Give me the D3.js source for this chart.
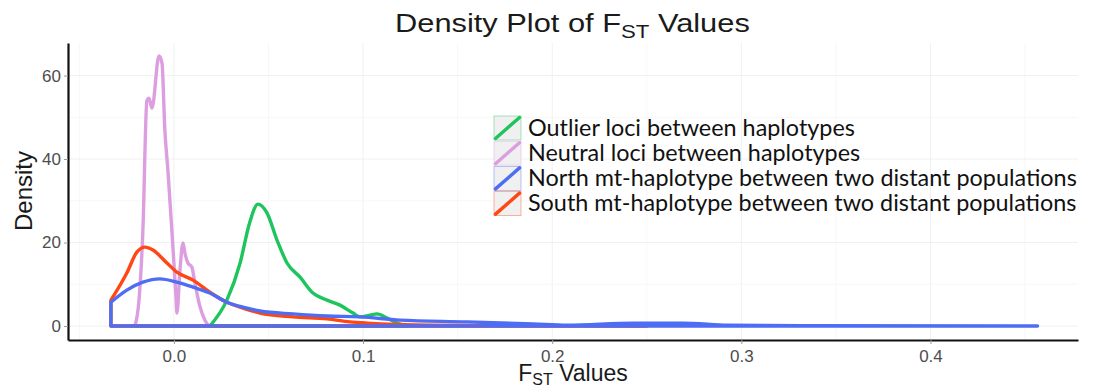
<!DOCTYPE html>
<html>
<head>
<meta charset="utf-8">
<script src="https://cdn.jsdelivr.net/npm/d3@7"></script>
<style>
  body { margin: 0; background: #fff; }
  svg { display: block; font-family: "Liberation Sans", Arial, sans-serif; }
</style>
</head>
<body>
<div id="chart"></div>
<script>
const seriesNames = [
  "Outlier loci between haplotypes",
  "Neutral loci between haplotypes",
  "North mt-haplotype between two distant populations",
  "South mt-haplotype between two distant populations"
];
const seriesColors = ["#1ec45c", "#dc9ee0", "#4d6df5", "#ff4614"];

// [F_ST, density]
const outlier = [
  [0.019, 0], [0.028, 6.2], [0.035, 15.1], [0.040, 24.7], [0.0444, 29.2], [0.0492, 27.1],
  [0.0545, 20.6], [0.0598, 15.1], [0.0667, 11.7], [0.0735, 7.9], [0.081, 6.2], [0.0878, 5.0],
  [0.0947, 3.1], [0.0984, 2.2], [0.1037, 2.6], [0.1074, 2.9], [0.1127, 1.9], [0.118, 0.7], [0.123, 0]
];
const neutral = [
  [-0.0206, 0], [-0.0185, 6], [-0.0164, 23], [-0.0143, 54], [-0.0132, 54.6], [-0.0116, 52.2],
  [-0.0079, 64.7], [-0.0063, 63], [-0.0048, 47], [-0.0032, 37.4], [-0.0011, 23], [0.0011, 7],
  [0.0016, 3.1], [0.0032, 13.4], [0.0048, 19.9], [0.0058, 17.5], [0.0074, 15.1], [0.0095, 14.1],
  [0.0111, 10.3], [0.0138, 4.6], [0.0164, 1.4], [0.0185, 0]
];
const north = [
  [-0.0333, 5.7], [-0.0249, 8.6], [-0.0164, 10.5], [-0.0074, 11.3], [0.0016, 10.5], [0.0101, 9.3],
  [0.019, 7.9], [0.028, 5.7], [0.0365, 4.5], [0.0455, 3.6], [0.063, 2.9], [0.081, 2.4],
  [0.0984, 2.2], [0.1196, 1.4], [0.155, 1.0], [0.19, 0.5], [0.208, 0.2], [0.243, 0.7],
  [0.269, 0.7], [0.293, 0.2], [0.331, 0.05], [0.4566, 0]
];
const south = [
  [-0.0333, 6.2], [-0.0249, 12.7], [-0.0196, 17.7], [-0.0153, 18.9], [-0.0111, 18.2], [-0.0037, 15.1],
  [0.0016, 12.9], [0.0101, 11.0], [0.019, 8.1], [0.028, 5.7], [0.0365, 4.3], [0.0455, 3.1],
  [0.063, 2.2], [0.081, 1.7], [0.093, 1.0], [0.102, 0.7], [0.137, 0.2], [0.2, 0.05], [0.25, 0]
];
const seriesData = [outlier, neutral, north, south];
const drawOrder = [0, 1, 3, 2];

const xTicks = [0.0, 0.1, 0.2, 0.3, 0.4];
const yTicks = [0, 20, 40, 60];

const W = 1108, H = 389;
const margin = { top: 43, right: 30, bottom: 49, left: 68 };
const width = W - margin.left - margin.right;
const height = H - margin.top - margin.bottom;

const svg = d3.select("#chart").append("svg")
  .attr("width", W).attr("height", H);
const g = svg.append("g")
  .attr("transform", `translate(${margin.left},${margin.top})`);

const x = d3.scaleLinear().domain([-0.056, 0.478]).range([0, width]);
const y = d3.scaleLinear().domain([-3.35, 67.8]).range([height, 0]);

// faint grid, major and minor
const xMinor = d3.range(-0.05, 0.476, 0.05);
const yMinor = d3.range(0, 67, 10);
g.append("g").selectAll("line").data(xMinor).join("line")
  .attr("x1", d => x(d)).attr("x2", d => x(d)).attr("y1", 0).attr("y2", height)
  .attr("stroke", d => xTicks.some(t => Math.abs(t - d) < 1e-9) ? "#f0f0f0" : "#f7f7f7")
  .attr("stroke-width", 1);
g.append("g").selectAll("line").data(yMinor).join("line")
  .attr("x1", 0).attr("x2", width).attr("y1", d => y(d)).attr("y2", d => y(d))
  .attr("stroke", d => yTicks.includes(d) ? "#f0f0f0" : "#f7f7f7")
  .attr("stroke-width", 1);

// axes
const xAxis = g.append("g")
  .attr("transform", `translate(0,${height})`)
  .call(d3.axisBottom(x).tickValues(xTicks).tickFormat(d3.format(".1f")).tickSize(4).tickSizeOuter(0));
const yAxis = g.append("g")
  .call(d3.axisLeft(y).tickValues(yTicks).tickSize(4).tickSizeOuter(0));
[xAxis, yAxis].forEach(a => {
  a.select(".domain").attr("stroke", "#111").attr("stroke-width", 2.2);
  a.selectAll(".tick line").attr("stroke", "#999");
  a.selectAll(".tick text")
    .attr("fill", "#4d4d4d")
    .style("font-size", "17px")
    .style("font-family", "'Liberation Sans', Arial, sans-serif");
});
xAxis.selectAll(".tick text").attr("dy", "0.9em");
yAxis.selectAll(".tick text").attr("x", -7);

// density outlines (closed against the baseline, like geom_density)
const area = d3.area()
  .x(d => x(d[0]))
  .y0(y(0))
  .y1(d => y(d[1]))
  .curve(d3.curveMonotoneX);

g.append("g").selectAll("path")
  .data(drawOrder)
  .join("path")
  .attr("d", i => area(seriesData[i]))
  .attr("fill", "none")
  .attr("stroke", i => seriesColors[i])
  .attr("stroke-width", 3.4)
  .attr("stroke-linejoin", "round");

// title, stretched a little to the width it has in the picture
const titleG = svg.append("g");
const title = titleG.append("text")
  .attr("x", 0).attr("y", 0)
  .attr("fill", "#1a1a1a")
  .style("font-size", "25px");
title.append("tspan").text("Density Plot of F");
title.append("tspan").attr("dy", 6).style("font-size", "18px").text("ST");
title.append("tspan").attr("dy", -6).text(" Values");
const tw = title.node().getComputedTextLength();
titleG.attr("transform", `translate(395,32) scale(${355 / tw},1)`);

// axis titles
const xTitle = svg.append("text")
  .attr("x", 573).attr("y", 381)
  .attr("text-anchor", "middle")
  .attr("fill", "#1a1a1a")
  .style("font-size", "23px");
xTitle.append("tspan").text("F");
xTitle.append("tspan").attr("dy", 4).style("font-size", "16px").text("ST");
xTitle.append("tspan").attr("dy", -4).text(" Values");

svg.append("text")
  .attr("transform", "translate(32,191) rotate(-90)")
  .attr("text-anchor", "middle")
  .attr("fill", "#1a1a1a")
  .style("font-size", "24px")
  .text("Density");

// legend
const legend = svg.append("g").attr("transform", "translate(494,116)");
const rowH = 25.2;
const rows = legend.selectAll("g").data(seriesNames).join("g")
  .attr("transform", (d, i) => `translate(0,${i * rowH})`);
rows.append("rect")
  .attr("x", 0).attr("y", 0).attr("width", 27).attr("height", 24)
  .attr("fill", "#f0f0f0")
  .attr("stroke", (d, i) => seriesColors[i])
  .attr("stroke-opacity", 0.5)
  .attr("stroke-width", 0.8);
rows.append("line")
  .attr("x1", 1.5).attr("y1", 22.5).attr("x2", 25.5).attr("y2", 1.5)
  .attr("stroke", (d, i) => seriesColors[i])
  .attr("stroke-width", 3.4)
  .attr("stroke-linecap", "round");
const labels = rows.append("text")
  .attr("x", 34).attr("y", 19.5)
  .attr("fill", "#111")
  .style("font-family", "Lato, 'Open Sans', sans-serif")
  .style("font-size", "21px")
  .text(d => d);

// fit longest legend line to its width in the picture
const longest = d3.max(labels.nodes(), n => n.getComputedTextLength());
const fs = 21 * 549 / longest;
labels.style("font-size", fs.toFixed(2) + "px");
</script>
</body>
</html>
